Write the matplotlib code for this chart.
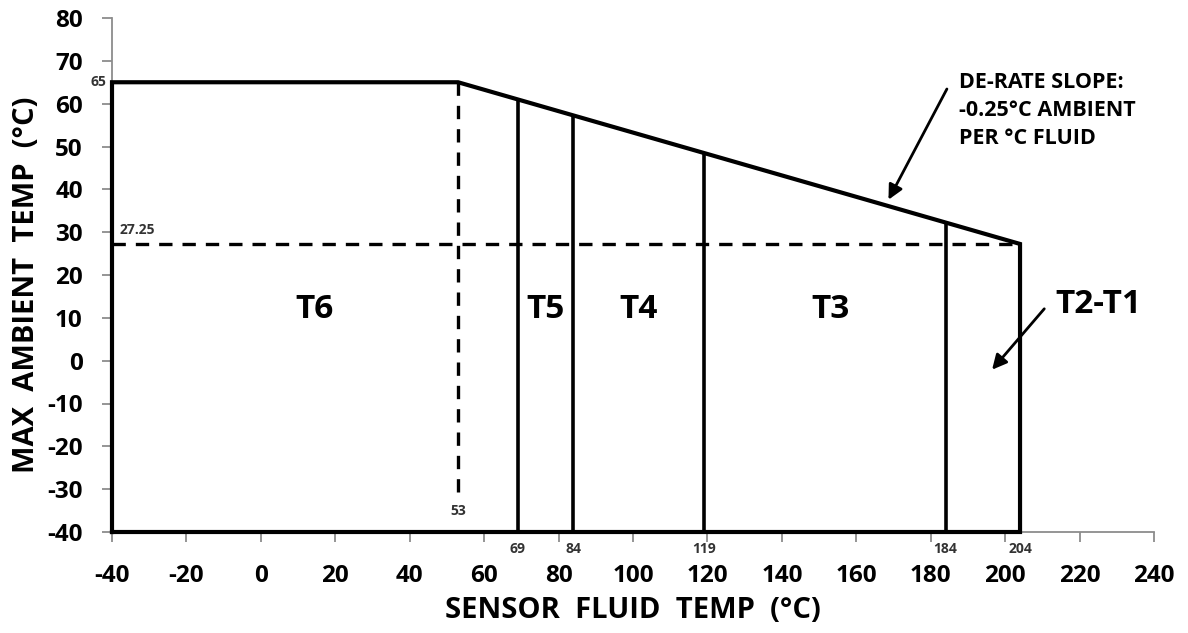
import matplotlib
matplotlib.use("Agg")
import matplotlib.pyplot as plt
import numpy as np

plt.rcParams['font.family'] = ['Open Sans', 'DejaVu Sans']
plt.rcParams['font.weight'] = 'bold'
plt.rcParams['axes.unicode_minus'] = False

# envelope of the allowed region (fluid temp, max ambient temp)
env_x = [-40, -40, 53, 204, 204, -40]
env_y = [-40, 65, 65, 27.25, -40, -40]

# temperature class boundaries and where they meet the de-rate line
bound_x = [69, 84, 119, 184]
bound_top = [61, 57.25, 48.5, 32.25]
bound_lbl = ["69", "84", "119", "184", "204"]
bound_lbl_x = [69, 84, 119, 184, 204]

# class names and label positions
cls_names = ["T6", "T5", "T4", "T3", "T2-T1"]
cls_x = [14.5, 76.5, 101.5, 153, 225]
cls_y = [12, 12, 12, 12, 13]

xticks = list(range(-40, 241, 20))
yticks = list(range(-40, 81, 10))

fig = plt.figure(figsize=(11.88, 6.33), dpi=100)
ax = fig.add_axes([112/1188, 101/633, 1042/1188, 514/633])

ax.set_xlim(-40, 240)
ax.set_ylim(-40, 80)
ax.set_xticks(xticks)
ax.set_yticks(yticks)
ax.tick_params(axis='both', colors='#8c8c8c', length=7, width=1.3,
               labelsize=17.5, labelcolor='black')
ax.tick_params(axis='x', pad=16)
ax.tick_params(axis='y', pad=14)
for t in ax.get_xticklabels() + ax.get_yticklabels():
    t.set_fontweight('bold')
for s in ['top', 'right']:
    ax.spines[s].set_visible(False)
for s in ['left', 'bottom']:
    ax.spines[s].set_color('#8c8c8c')
    ax.spines[s].set_linewidth(1.3)

# outline
ax.plot(env_x, env_y, color='black', lw=3, solid_joinstyle='miter',
        clip_on=False, zorder=5)

# class boundary lines
ax.vlines(bound_x, -40, bound_top, colors='black', lw=2.6, zorder=4)

# dashed guides
ax.plot([-40, 204], [27.25, 27.25], color='black', lw=2.4,
        dashes=(4, 3), zorder=3)
ax.plot([53, 53], [65, -31], color='black', lw=2.4, dashes=(4, 3), zorder=3)

# small value labels
small = dict(fontsize=10, fontweight='bold', color='#333333', clip_on=False)
ax.text(-41.5, 65, "65", ha='right', va='center', **small)
ax.text(-38, 28.8, "27.25", ha='left', va='bottom', **small)
ax.text(53, -35, "53", ha='center', va='center', **small)
for xv, lb in zip(bound_lbl_x, bound_lbl):
    ax.text(xv, -44, lb, ha='center', va='center', **small)

# class labels
for nm, xv, yv in zip(cls_names, cls_x, cls_y):
    ax.text(xv, yv, nm, ha='center', va='center', fontsize=24,
            fontweight='bold')

# arrows
ax.annotate("", xy=(196, -2.6), xytext=(211, 12.6),
            arrowprops=dict(arrowstyle='-|>', color='black', lw=2,
                            mutation_scale=22))
ax.annotate("", xy=(168.3, 37), xytext=(184.7, 64),
            arrowprops=dict(arrowstyle='-|>', color='black', lw=2,
                            mutation_scale=22))
ax.text(187.5, 67.5, "DE-RATE SLOPE:\n-0.25°C AMBIENT\nPER °C FLUID",
        ha='left', va='top', fontsize=15.5, fontweight='bold',
        linespacing=1.45)

ax.set_xlabel("SENSOR  FLUID  TEMP  (°C)", fontsize=21, fontweight='bold')
ax.set_ylabel("MAX  AMBIENT  TEMP  (°C)", fontsize=21, fontweight='bold')
ax.xaxis.set_label_coords(0.5, -0.125)
ax.yaxis.set_label_coords(-0.068, 0.48)

fig.savefig("out.png", dpi=100)
